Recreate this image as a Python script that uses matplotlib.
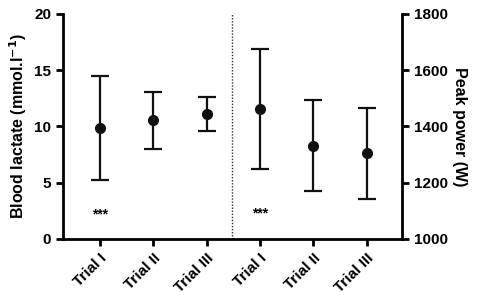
import numpy as np
import matplotlib.pyplot as plt

plt.rcParams['font.family'] = ['Liberation Sans', 'DejaVu Sans']
plt.rcParams['font.weight'] = 'bold'
plt.rcParams['axes.labelweight'] = 'bold'

labels = ['Trial I', 'Trial II', 'Trial III', 'Trial I', 'Trial II', 'Trial III']

# blood lactate (mmol.l-1): mean, lower, upper
lac_mean = [9.9, 10.6, 11.1]
lac_low = [5.2, 8.0, 9.6]
lac_high = [14.5, 13.1, 12.6]

# peak power (W): mean, lower, upper
pow_mean = [1463, 1332, 1305]
pow_low = [1250, 1171, 1143]
pow_high = [1675, 1494, 1465]

fig = plt.figure(figsize=(4.89, 3.02), dpi=100)
ax = fig.add_axes([0.129, 0.209, 0.693, 0.745])
ax2 = ax.twinx()

xl = np.arange(3)
xr = np.arange(3, 6)
style = dict(fmt='o', color='#111111', ms=7, capsize=6.5, elinewidth=1.6, capthick=1.6)
ax.errorbar(xl, lac_mean,
            yerr=[np.subtract(lac_mean, lac_low), np.subtract(lac_high, lac_mean)], **style)
ax2.errorbar(xr, pow_mean,
             yerr=[np.subtract(pow_mean, pow_low), np.subtract(pow_high, pow_mean)], **style)

ax.axvline(2.47, color='#333333', lw=1, ls=(0, (1, 1.2)))

ax.set_xlim(-0.69, 5.66)
ax.set_ylim(0, 20)
ax.set_yticks([0, 5, 10, 15, 20])
ax2.set_ylim(1000, 1800)
ax2.set_yticks([1000, 1200, 1400, 1600, 1800])

ax.set_xticks(range(6))
ax.set_xticklabels(labels, rotation=45, ha='right', rotation_mode='anchor', fontsize=10)

for a in (ax, ax2):
    a.spines['top'].set_visible(False)
    for s in a.spines.values():
        s.set_linewidth(2)
    a.tick_params(width=2, length=5, labelsize=11)
ax.spines['right'].set_visible(False)
ax2.spines['left'].set_visible(False)
ax2.spines['bottom'].set_visible(False)

ax.set_ylabel('Blood lactate (mmol.l$^{\\mathbf{-1}}$)', fontsize=11.5, labelpad=4)
ax2.set_ylabel('Peak power (W)', fontsize=11.5, rotation=270, labelpad=14)

ax.text(0, 2.2, '***', ha='center', va='center', fontsize=10)
ax.text(3, 2.3, '***', ha='center', va='center', fontsize=10)

fig.savefig('out.png', dpi=100)
